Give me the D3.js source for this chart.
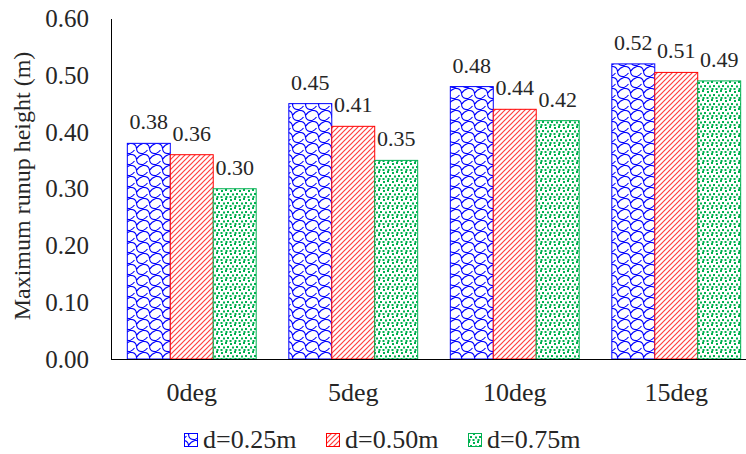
<!DOCTYPE html>
<meta charset="utf-8">
<style>
	body{ margin:0; background:#fff; }
	svg text{ font-family:"Liberation Serif","Times New Roman",serif; fill:#262626; }
	.axis path{ stroke:#000; stroke-width:1; }
	.axis text{ font-size:25px; }
	.xaxis text{ font-size:26px; }
	.lbl{ font-size:22px; text-anchor:middle; }
	.legend text{ font-size:26px; }
</style>
<body>
<svg width="746" height="454" id="chart"></svg>
<script src="https://cdn.jsdelivr.net/npm/d3@7"></script>
<script>
	var categories = ["0deg", "5deg", "10deg", "15deg"];
	var series = ["d=0.25m", "d=0.50m", "d=0.75m"];
	var d025 = [0.38, 0.45, 0.48, 0.52];
	var d050 = [0.36, 0.41, 0.44, 0.505];
	var d075 = [0.30, 0.35, 0.42, 0.49];
	var labels025 = ["0.38", "0.45", "0.48", "0.52"];
	var labels050 = ["0.36", "0.41", "0.44", "0.51"];
	var labels075 = ["0.30", "0.35", "0.42", "0.49"];
	var yTicks = [0, 0.1, 0.2, 0.3, 0.4, 0.5, 0.6];

	var values = [d025, d050, d075];
	var texts = [labels025, labels050, labels075];
	var colors = ["#0000ff", "#ff0000", "#00b050"];
	var pats = ["patBlue", "patRed", "patGreen"];

	var svg = d3.select("#chart");
	var plotLeft = 111, plotBottom = 359, plotTop = 18.5;

	/* fill patterns, something like the office ones */
	var defs = svg.append("defs");
	var pb = defs.append("pattern").attr("id", "patBlue")
		.attr("patternUnits", "userSpaceOnUse").attr("width", 13).attr("height", 11);
	pb.append("rect").attr("width", 13).attr("height", 11).attr("fill", "#fff");
	pb.append("path")
		.attr("d", "M0,0.5 Q6,0 6.5,5.5 Q7,11 13,10.5 M6.5,5.5 Q9,1.5 13,0.5 M0,10.5 Q3,9 4.5,7")
		.attr("fill", "none").attr("stroke", colors[0]).attr("stroke-width", 1.1);

	var pr = defs.append("pattern").attr("id", "patRed")
		.attr("patternUnits", "userSpaceOnUse").attr("width", 5).attr("height", 5);
	pr.append("rect").attr("width", 5).attr("height", 5).attr("fill", "#fff");
	pr.append("path").attr("d", "M-1,6 L6,-1 M-1,1 L1,-1 M4,6 L6,4")
		.attr("stroke", "#ff4040").attr("stroke-width", 1.2);

	var pg = defs.append("pattern").attr("id", "patGreen")
		.attr("patternUnits", "userSpaceOnUse").attr("width", 9).attr("height", 9);
	pg.append("rect").attr("width", 9).attr("height", 9).attr("fill", "#fff");
	[[0, 0], [5, 1], [2, 4], [7, 4.5], [0.5, 7], [4.5, 7]].forEach(function(p){
		pg.append("rect").attr("x", p[0]).attr("y", p[1]).attr("width", 2).attr("height", 2).attr("fill", colors[2]);
	});

	var x0 = d3.scaleBand().domain(categories).range([plotLeft, 757]).padding(0);
	var x1 = d3.scaleBand().domain(series).range([0, x0.bandwidth()]).paddingInner(0).paddingOuter(0.38);
	var y = d3.scaleLinear().domain([0, 0.6]).range([plotBottom, plotTop]);

	/* axes */
	svg.append("g").attr("class", "axis").attr("transform", "translate(" + plotLeft + ",0)")
		.call(d3.axisLeft(y).tickValues(yTicks).tickSize(0).tickPadding(22).tickFormat(d3.format(".2f")))
		.call(function(g){ g.selectAll("text").attr("fill", "#262626"); });

	series.forEach(function(s, i){
		var g = svg.append("g");
		g.selectAll("rect").data(values[i]).enter().append("rect")
			.attr("x", function(d, j){ return x0(categories[j]) + x1(s); })
			.attr("y", function(d){ return y(d); })
			.attr("width", x1.bandwidth())
			.attr("height", function(d){ return plotBottom - y(d); })
			.attr("fill", "url(#" + pats[i] + ")")
			.attr("stroke", colors[i]).attr("stroke-width", 1);
		g.selectAll("text").data(values[i]).enter().append("text")
			.attr("class", "lbl")
			.attr("x", function(d, j){ return x0(categories[j]) + x1(s) + x1.bandwidth() / 2; })
			.attr("y", function(d){ return y(d) - 14; })
			.text(function(d, j){ return texts[i][j]; });
	});

	var xa = svg.append("g").attr("class", "axis xaxis").attr("transform", "translate(0," + plotBottom + ")")
		.call(d3.axisBottom(x0).tickSize(0).tickPadding(24))
		.call(function(g){ g.selectAll("text").attr("fill", "#262626"); });
	xa.select(".domain").attr("d", "M" + plotLeft + ",0.5H746");

	svg.append("text").attr("transform", "translate(30,186) rotate(-90)")
		.attr("text-anchor", "middle").style("font-size", "24px")
		.text("Maximum runup height (m)");

	/* legend */
	var legX = [184, 326, 468];
	var leg = svg.append("g").attr("class", "legend");
	series.forEach(function(s, i){
		leg.append("rect").attr("x", legX[i] + 0.5).attr("y", 433.5).attr("width", 13).attr("height", 13)
			.attr("fill", "url(#" + pats[i] + ")").attr("stroke", colors[i]);
		leg.append("text").attr("x", legX[i] + 19).attr("y", 448).text(s);
	});
</script>
</body>
